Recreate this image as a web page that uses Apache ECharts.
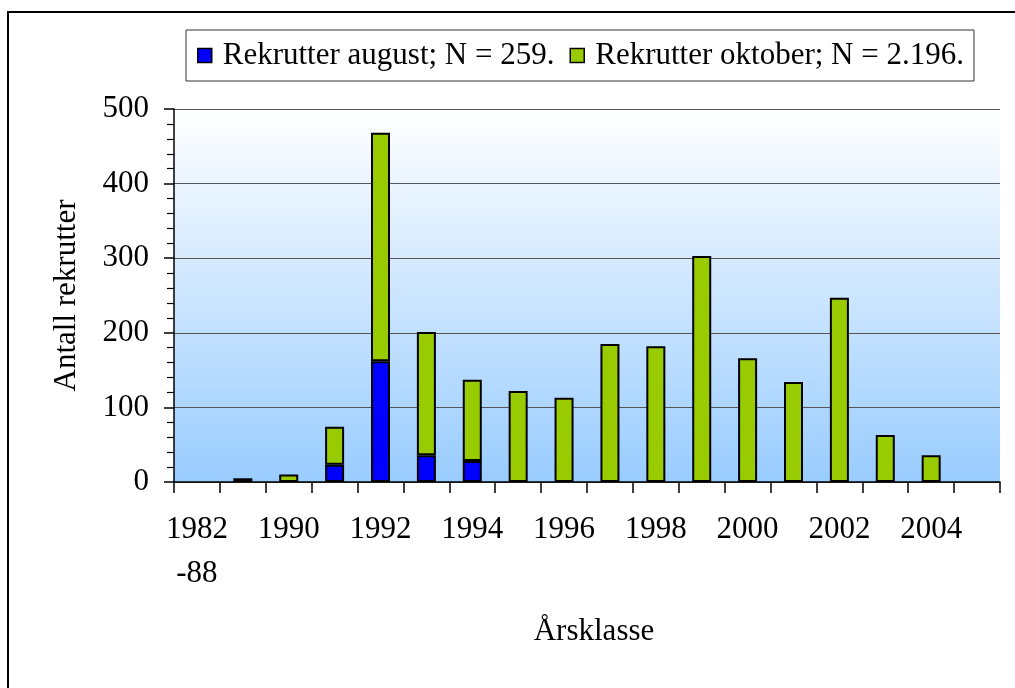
<!DOCTYPE html>
<html>
<head>
<meta charset="utf-8">
<script src="https://cdn.jsdelivr.net/npm/echarts@6/dist/echarts.min.js"></script>
<style>
  html, body { margin: 0; padding: 0; background: #fff; }
  #chart { width: 1015px; height: 688px; }
</style>
</head>
<body>
<div id="chart"></div>
<script>
// årsklasser
var categories = ['1982\n-88', '1989', '1990', '1991', '1992', '1993', '1994', '1995', '1996',
  '1997', '1998', '1999', '2000', '2001', '2002', '2003', '2004', '2005'];
var augustValues = ['-', 5, '-', 23, 162, 36, 28, '-', '-', '-', '-', '-', '-', '-', '-', '-', '-', '-'];
var oktoberValues = ['-', '-', 10, 51, 306, 165, 109, 122, 113, 185, 182, 303, 166, 134, 247, 63, 36, '-'];
var yTicks = [0, 100, 200, 300, 400, 500];

var font = '"Liberation Serif", "Times New Roman", serif';

var myChart = echarts.init(document.getElementById('chart'));
var option = {
  backgroundColor: '#fff',
  textStyle: { fontFamily: font, color: '#000' },
  graphic: [{
    type: 'rect',
    shape: { x: 8, y: 12, width: 1020, height: 690 },
    style: { fill: 'none', stroke: '#000', lineWidth: 2 },
    z: -1
  }],
  legend: {
    left: 186,
    top: 30,
    padding: [10, 10, 10, 11],
    icon: 'rect',
    itemWidth: 14,
    itemHeight: 14,
    itemGap: 15,
    backgroundColor: '#fff',
    borderColor: '#333',
    borderWidth: 1,
    textStyle: { fontFamily: font, fontSize: 31, color: '#000', padding: [0, 0, 0, 6] },
    data: [
      { name: 'Rekrutter august; N = 259.', itemStyle: { borderColor: '#000', borderWidth: 1.5 } },
      { name: 'Rekrutter oktober; N = 2.196.', itemStyle: { borderColor: '#000', borderWidth: 1.5 } }
    ]
  },
  grid: {
    left: 174,
    right: 15,
    top: 109,
    bottom: 206,
    show: true,
    borderWidth: 0,
    backgroundColor: {
      type: 'linear', x: 0, y: 0, x2: 0, y2: 1,
      colorStops: [{ offset: 0, color: '#ffffff' }, { offset: 1, color: '#99ccff' }]
    }
  },
  xAxis: {
    type: 'category',
    data: categories,
    name: 'Årsklasse',
    nameLocation: 'middle',
    nameGap: 134,
    nameTextStyle: { fontFamily: font, fontSize: 31, color: '#000', padding: [0, 0, 0, 14] },
    axisLine: { lineStyle: { color: '#000', width: 1.5 } },
    axisTick: { show: true, length: 11, interval: 0, lineStyle: { color: '#000', width: 1.5 } },
    axisLabel: {
      interval: 1,
      margin: 26,
      fontFamily: font,
      fontSize: 31,
      lineHeight: 44,
      color: '#000'
    }
  },
  yAxis: {
    type: 'value',
    min: yTicks[0],
    max: yTicks[yTicks.length - 1],
    interval: 100,
    name: 'Antall rekrutter',
    nameLocation: 'middle',
    nameGap: 92,
    nameTextStyle: { fontFamily: font, fontSize: 31, color: '#000' },
    axisLine: { show: true, lineStyle: { color: '#000', width: 1.5 } },
    axisTick: { show: true, length: 10, lineStyle: { color: '#000', width: 1.5 } },
    minorTick: { show: true, splitNumber: 5, length: 7, lineStyle: { color: '#000', width: 1.2 } },
    splitLine: { show: true, lineStyle: { color: '#555', width: 1 } },
    axisLabel: { margin: 25, fontFamily: font, fontSize: 31, color: '#000' }
  },
  series: [{
    name: 'Rekrutter august; N = 259.',
    type: 'bar',
    stack: 'total',
    barWidth: 19,
    data: augustValues,
    itemStyle: { color: '#0000ff', borderColor: '#000', borderWidth: 2 }
  }, {
    name: 'Rekrutter oktober; N = 2.196.',
    type: 'bar',
    stack: 'total',
    barWidth: 19,
    data: oktoberValues,
    itemStyle: { color: '#99cc00', borderColor: '#000', borderWidth: 2 }
  }]
};
myChart.setOption(option, true);
</script>
</body>
</html>
